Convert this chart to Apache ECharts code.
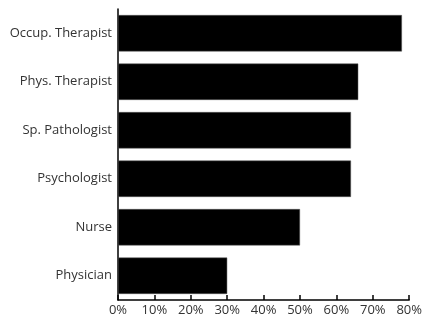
<!DOCTYPE html>
<html>
<head>
<meta charset="utf-8">
<script src="https://cdn.jsdelivr.net/npm/echarts@6/dist/echarts.min.js"></script>
<style>
  html, body { margin: 0; padding: 0; background: #fff; }
  #chart { width: 425px; height: 318px; }
</style>
</head>
<body>
<div id="chart"></div>
<script>
// professions, top to bottom
const categories = ["Occup. Therapist", "Phys. Therapist", "Sp. Pathologist", "Psychologist", "Nurse", "Physician"];
// percent values
const values = [78, 66, 64, 64, 50, 30];
const xTicks = [0, 10, 20, 30, 40, 50, 60, 70, 80];

const chart = echarts.init(document.getElementById("chart"));
chart.setOption({
  animation: false,
  textStyle: { fontFamily: "Open Sans" },
  grid: { left: 118, right: 14, top: 9, bottom: 18, containLabel: false },
  xAxis: {
    type: "value",
    min: xTicks[0],
    max: xTicks[xTicks.length - 1],
    interval: 10,
    axisLine: { show: true, lineStyle: { color: "#000", width: 1.5 } },
    axisTick: { show: true, inside: true, length: 5, lineStyle: { color: "#000", width: 1.5 } },
    axisLabel: { formatter: "{value}%", color: "#333", fontSize: 13, margin: 4 },
    splitLine: { show: false }
  },
  yAxis: {
    type: "category",
    inverse: true,
    data: categories,
    axisLine: { show: true, lineStyle: { color: "#000", width: 1.5 } },
    axisTick: { show: false },
    axisLabel: { color: "#333", fontSize: 13, margin: 6 }
  },
  series: [{
    type: "bar",
    data: values,
    barWidth: "75%",
    itemStyle: { color: "#000", borderColor: "#555", borderWidth: 0.5 }
  }]
});
</script>
</body>
</html>
